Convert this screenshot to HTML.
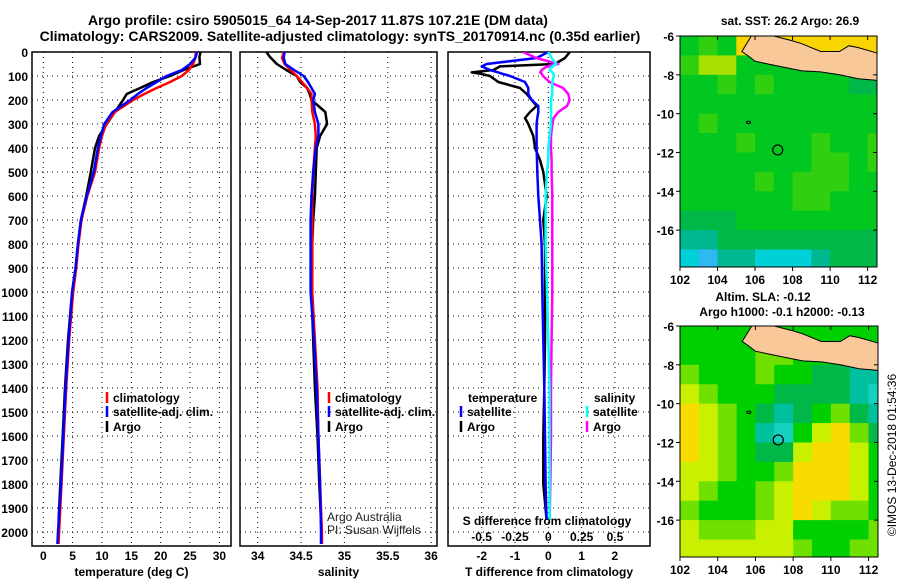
<!DOCTYPE html>
<html><head><meta charset="utf-8">
<style>
html,body{margin:0;padding:0;background:#fff;}
svg{display:block;font-family:"Liberation Sans",Arial,sans-serif;}
.b{font-weight:bold;}
</style></head>
<body>
<svg id="fig" width="900" height="580" viewBox="0 0 900 580" xmlns="http://www.w3.org/2000/svg">
<text x="318" y="25" text-anchor="middle" font-size="14" class="b">Argo profile: csiro 5905015_64 14-Sep-2017 11.87S 107.21E (DM data)</text>
<text x="340" y="41" text-anchor="middle" font-size="14" class="b">Climatology: CARS2009. Satellite-adjusted climatology: synTS_20170914.nc (0.35d earlier)</text>
<text x="790" y="25" text-anchor="middle" font-size="12" class="b">sat. SST: 26.2 Argo: 26.9</text>
<text x="763" y="301" text-anchor="middle" font-size="12" class="b">Altim. SLA: -0.12</text>
<text x="782" y="316" text-anchor="middle" font-size="12" class="b">Argo h1000: -0.1 h2000: -0.13</text>
<text transform="translate(896,455) rotate(-90)" text-anchor="middle" font-size="12">©IMOS 13-Dec-2018 01:54:36</text>
<g id="plots"></g>
</svg>
<script>
// ---------- data ----------
const depths = [0,25,50,75,100,125,150,175,200,250,300,350,400,500,600,700,800,900,1000,1200,1400,1600,1800,2000,2050];
const tempClim = [26.0,25.9,25.5,24.8,23.6,21.6,19.3,17.2,15.3,12.2,10.7,10.0,9.5,8.8,7.5,6.5,6.0,5.6,5.1,4.4,3.9,3.5,3.1,2.7,2.6];
const tempSat  = [26.2,25.9,25.0,23.6,21.0,19.3,17.6,16.1,14.8,11.8,10.4,9.8,9.3,8.6,7.4,6.4,5.9,5.5,4.9,4.3,3.8,3.4,3.0,2.5,2.4];
const argoDepths = [0,20,50,75,100,125,150,175,200,250,300,350,400,500,600,700,800,900,1000,1200,1400,1600,1800,1950];
const tempArgo = [26.8,26.6,26.7,23.9,21.6,18.7,16.5,14.2,13.6,12.2,10.8,9.5,8.8,8.1,7.3,6.4,5.9,5.5,4.9,4.2,3.7,3.3,2.9,2.6];
const salClim = [34.30,34.28,34.31,34.38,34.45,34.51,34.57,34.62,34.62,34.63,34.66,34.67,34.66,34.64,34.63,34.63,34.63,34.63,34.63,34.66,34.69,34.70,34.72,34.74,34.74];
const salSat  = [34.31,34.30,34.32,34.42,34.53,34.58,34.62,34.66,34.64,34.66,34.70,34.70,34.67,34.64,34.62,34.61,34.61,34.61,34.61,34.65,34.68,34.70,34.72,34.73,34.73];
const salArgo = [34.10,34.14,34.22,34.33,34.45,34.49,34.57,34.60,34.62,34.78,34.80,34.72,34.68,34.67,34.66,34.64,34.63,34.63,34.62,34.64,34.66,34.69,34.71,34.73];
const diffDepths = [0,25,50,60,75,85,90,100,125,150,175,200,225,250,275,300,350,400,450,500,600,700,800,1000,1200,1400,1600,1800,1950];
const dTsat  = [0,-0.35,-1.85,-2.0,-1.75,-1.5,-1.4,-1.15,-0.7,-0.6,-0.6,-0.5,-0.3,-0.3,-0.33,-0.35,-0.35,-0.35,-0.34,-0.33,-0.3,-0.25,-0.2,-0.18,-0.15,-0.12,-0.1,-0.08,-0.05];
const dTargo = [0.65,0.5,0.2,-1.45,-1.65,-2.3,-2.05,-1.75,-1.5,-0.85,-0.65,-0.5,-0.35,-0.55,-0.7,-0.6,-0.45,-0.4,-0.25,-0.15,-0.05,-0.15,-0.1,-0.1,-0.1,-0.12,-0.15,-0.15,-0.05];
const dSsat  = [0,0.025,0.06,0.03,0.01,0.03,0.04,0.04,0.03,0.03,0.03,0.02,0.02,0.02,0.02,0.02,0.01,0,0,-0.01,-0.02,-0.02,-0.02,-0.01,0,0.01,0.01,0.01,0.01];
const dSargo = [-0.19,-0.09,0.075,-0.01,-0.05,-0.06,-0.05,-0.04,0.01,0.11,0.15,0.16,0.14,0.075,0.04,0.03,0.02,0.02,0.025,0.025,0.03,0.03,0.03,0.03,0.025,0.02,0.02,0.015,0.01];
const depthTicks = [0,100,200,300,400,500,600,700,800,900,1000,1100,1200,1300,1400,1500,1600,1700,1800,1900,2000];
const tempTicks = [0,5,10,15,20,25,30];
const salTicks = [34,34.5,35,35.5,36];
const salTickLabels = ["34","34.5","35","35.5","36"];
const dTTicks = [-2,-1,0,1,2];
const dSTicks = [-0.5,-0.25,0,0.25,0.5];
const dSTickLabels = ["-0.5","-0.25","0","0.25","0.5"];
const lonTicks = [102,104,106,108,110,112];
const latTicks = [-6,-8,-10,-12,-14,-16];
const argoLon = 107.21, argoLat = -11.87;
// SST map levels (rows lat -6..-18 by 1 deg, cols lon 102..113)
const sstGrid = [
 [4,5,4,8,8,8,8,8,8,8,8],
 [5,6,6,4,4,4,4,4,4,4,4],
 [4,4,5,4,5,4,4,4,4,3,3],
 [4,4,4,4,4,4,4,4,4,4,4],
 [4,5,4,4,4,4,4,4,4,4,4],
 [4,4,4,5,4,4,4,5,4,4,5],
 [4,4,4,4,4,4,4,5,5,4,5],
 [4,4,4,4,5,4,5,5,5,4,4],
 [4,4,4,4,4,4,5,5,4,4,4],
 [3,3,3,4,4,4,4,4,4,4,4],
 [2,2,3,3,3,3,3,3,3,3,3],
 [1,0,2,2,1,1,1,2,3,3,3]];
const sstColors = ["#30b8f0","#00d0d8","#00b890","#00b848","#00c820","#30d010","#a8e000","#f0e000","#f8d400"];
const slaGrid = [
 [3,3,3,3,4,3,3,3,3,3,3],
 [3,3,3,3,4,4,3,3,3,3,3],
 [4,3,3,3,4,3,3,2,2,1,1],
 [5,4,3,3,3,2,2,2,2,1,0],
 [6,5,4,3,2,1,2,3,4,2,1],
 [6,5,4,3,1,0,3,5,6,4,2],
 [6,5,4,3,2,2,5,6,6,5,3],
 [5,5,4,3,3,4,6,6,6,5,3],
 [5,4,3,3,4,5,6,6,6,5,3],
 [4,3,3,3,4,5,6,5,4,4,3],
 [5,4,4,4,5,5,3,3,3,3,4],
 [5,5,5,5,5,5,4,3,3,4,4]];
const slaColors = ["#18d0c0","#00c0a0","#00b848","#00d000","#70e000","#c8f000","#f8dc00"];
const javaLon = [105.3,105.6,106.0,106.5,107.5,108.5,109.5,110.5,111.5,112.6,112.6,111.5,111.0,110.5,109.5,108.5,108.0,107.0,106.0,105.8];
const javaLat = [-6.8,-7.0,-7.3,-7.4,-7.6,-7.8,-7.85,-8.0,-8.2,-8.3,-6.9,-6.6,-6.5,-6.8,-6.8,-6.4,-6.25,-6.0,-5.9,-6.0];

// ---------- helpers ----------
const NS="http://www.w3.org/2000/svg";
const root=document.getElementById('plots');
function el(tag,attrs,parent){const e=document.createElementNS(NS,tag);for(const k in attrs)e.setAttribute(k,attrs[k]);(parent||root).appendChild(e);return e;}
function txt(s,x,y,size,anchor,bold,parent,fill){const t=el('text',{x:x,y:y,'font-size':size,'text-anchor':anchor||'middle','font-weight':bold?'bold':'normal',fill:fill||'#000'},parent);t.textContent=s;return t;}
const PT=52, PB=546, yD=d=>52+d*0.24;
function panel(name,x0,x1,xs,ticks,labels,title){
  const g=el('g',{});
  
  
  const cid='clip-'+name;const cp=el('clipPath',{id:cid},g);el('rect',{x:x0,y:PT,width:x1-x0,height:PB-PT},cp);
  depthTicks.forEach(d=>{const gl=el('line',{x1:x0,x2:x1,y1:yD(d),y2:yD(d),stroke:'#000','stroke-width':1,'stroke-dasharray':'1,4'},g);});
  ticks.forEach((v,i)=>{const gx=xs(v);const gl=el('line',{x1:gx,x2:gx,y1:PT,y2:PB,stroke:'#000','stroke-width':1,'stroke-dasharray':'1,4'},g);
    if(labels){const t=txt(labels[i],gx,560,12,'middle',true,g);}});
  const bx=el('rect',{x:x0,y:PT,width:x1-x0,height:PB-PT,fill:'none',stroke:'#000','stroke-width':1.5},g);
  
  if(title){const t=txt(title,(x0+x1)/2,576,12,'middle',true,g);}
  const sg=el('g',{'clip-path':'url(#'+cid+')'},g);
  return sg;
}
function series(g,name,xs,vals,ds,color,w){
  const pts=vals.map((v,i)=>xs(v).toFixed(1)+','+yD(ds[i]).toFixed(1)).join(' ');
  const p=el('polyline',{points:pts,fill:'none',stroke:color,'stroke-width':w||2.5,'stroke-linejoin':'round'},g);
  
  
}
function legendEntry(name,x,y,color,label){
  const g=el('g',{});
  
  
  el('line',{x1:x,x2:x,y1:y-10,y2:y+1,stroke:color,'stroke-width':2.5},g);
  txt(label,x+6,y,12,'start',true,g);
}

// depth labels
depthTicks.forEach(d=>{const t=txt(String(d),28,yD(d)+5,12,'end',true);});

// temperature panel
const xT=v=>43.3+v*5.87;
const gT=panel('temperature-panel',32,231,xT,tempTicks,tempTicks.map(String),'temperature (deg C)');
series(gT,'temp-argo-line',xT,tempArgo,argoDepths,'#000');
series(gT,'temp-climatology-line',xT,tempClim,depths,'#f00');
series(gT,'temp-satellite-line',xT,tempSat,depths,'#00f');
legendEntry('legend-climatology',107,402,'#f00','climatology');
legendEntry('legend-satellite-adj',107,416,'#00f','satellite-adj. clim.');
legendEntry('legend-argo',107,431,'#000','Argo');

// salinity panel
const xS=v=>257.7+(v-34)*86.7;
const gS=panel('salinity-panel',240,437,xS,salTicks,salTickLabels,'salinity');
series(gS,'sal-argo-line',xS,salArgo,argoDepths,'#000');
series(gS,'sal-climatology-line',xS,salClim,depths,'#f00');
series(gS,'sal-satellite-line',xS,salSat,depths,'#00f');
legendEntry('legend-sal-climatology',329,402,'#f00','climatology');
legendEntry('legend-sal-satellite-adj',329,416,'#00f','satellite-adj. clim.');
legendEntry('legend-sal-argo',329,431,'#000','Argo');
let t1=txt('Argo Australia',327,521,12,'start',false,null,'#222');
let t2=txt('PI: Susan Wijffels',327,534,12,'start',false,null,'#222');

// difference panel
const xDT=v=>548.3+v*33.3, xDS=v=>548.3+v*133.3;
const gD=panel('difference-panel',448,650,xDT,dTTicks,dTTicks.map(String),'T difference from climatology');
series(gD,'dT-argo-line',xDT,dTargo,diffDepths,'#000');
series(gD,'dT-satellite-line',xDT,dTsat,diffDepths,'#00f');
series(gD,'dS-argo-line',xDS,dSargo,diffDepths,'#f0f');
series(gD,'dS-satellite-line',xDS,dSsat,diffDepths,'#0ff');
let tt=txt('temperature',468,402,12,'start',true);
let ts=txt('salinity',594,402,12,'start',true);
legendEntry('legend-t-satellite',461,416,'#00f','satellite');
legendEntry('legend-t-argo',461,431,'#000','Argo');
legendEntry('legend-s-satellite',587,416,'#0ff','satellite');
legendEntry('legend-s-argo',587,431,'#f0f','Argo');
let sd=txt('S difference from climatology',547,525,12,'middle',true);
dSTicks.forEach((v,i)=>{const t=txt(dSTickLabels[i],xDS(v),541,12,'middle',true);});

// maps
function map(name,x0,y0,x1,y1,grid,colors){
  const g=el('g',{});
  
  
  const lonS=v=>x0+(v-102)*(x1-x0)/10.5, latS=v=>y0+(-6-v)*(y1-y0)/11.9;
  const cid='clip-'+name;const cp=el('clipPath',{id:cid},g);el('rect',{x:x0,y:y0,width:x1-x0,height:y1-y0},cp);
  const cg=el('g',{'clip-path':'url(#'+cid+')'},g);
  grid.forEach((row,r)=>row.forEach((lv,c)=>{
    const cx=lonS(102+c),cy=latS(-6-r);
    const rc=el('rect',{x:cx,y:cy,width:lonS(103+c)-cx+0.5,height:latS(-7-r)-cy+0.5,fill:colors[lv]},cg);
    
    
  }));
  const land=el('polygon',{points:javaLon.map((v,i)=>lonS(v).toFixed(1)+','+latS(javaLat[i]).toFixed(1)).join(' '),fill:'#f8c898',stroke:'#000','stroke-width':1},cg);
  
  const isl=el('ellipse',{cx:lonS(105.65),cy:latS(-10.45),rx:2,ry:1.2,fill:'none',stroke:'#000','stroke-width':1},cg);
  
  const ac=el('circle',{cx:lonS(argoLon),cy:latS(argoLat),r:5,fill:'none',stroke:'#000','stroke-width':1.2},cg);
  
  el('rect',{x:x0,y:y0,width:x1-x0,height:y1-y0,fill:'none',stroke:'#000','stroke-width':1},g);
  lonTicks.forEach(v=>{el('line',{x1:lonS(v),x2:lonS(v),y1:y1,y2:y1+4,stroke:'#000'},g);el('line',{x1:lonS(v),x2:lonS(v),y1:y0,y2:y0+4,stroke:'#000'},g);
    const t=txt(String(v),lonS(v),y1+17,12,'middle',true,g);});
  latTicks.forEach(v=>{el('line',{x1:x0-4,x2:x0,y1:latS(v),y2:latS(v),stroke:'#000'},g);el('line',{x1:x1-4,x2:x1,y1:latS(v),y2:latS(v),stroke:'#000'},g);
    const t=txt(String(v),x0-6,latS(v)+5,12,'end',true,g);});
}
map('sst-map',680,36,877,267,sstGrid,sstColors);
map('sla-map',680,326,878,557,slaGrid,slaColors);
</script>
</body></html>
